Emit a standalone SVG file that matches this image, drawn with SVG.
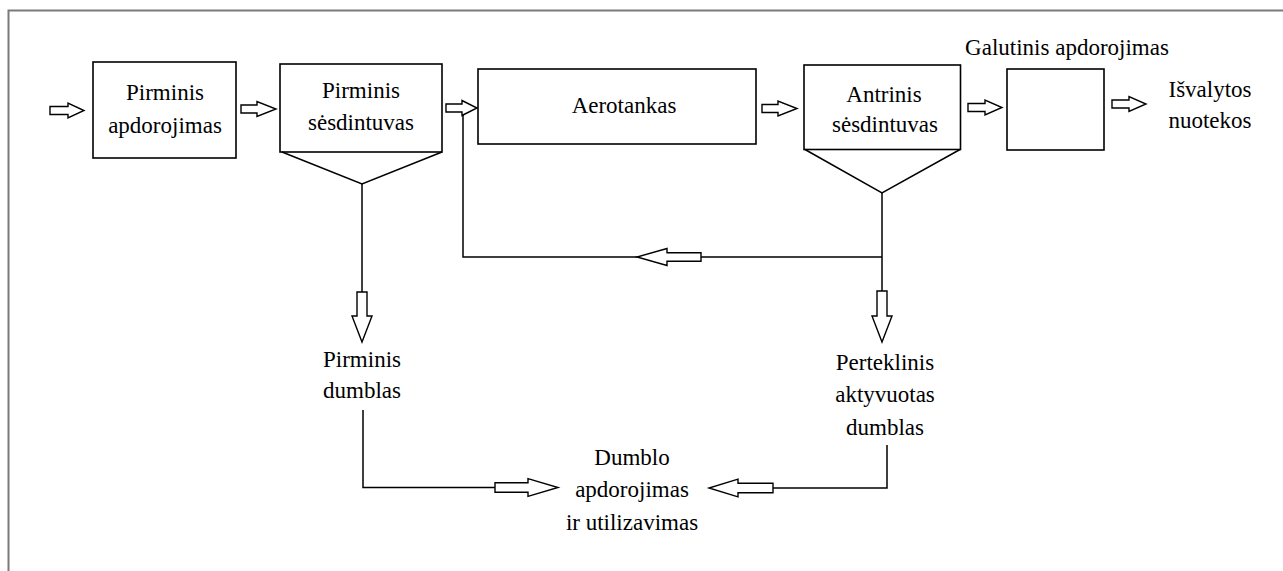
<svg xmlns="http://www.w3.org/2000/svg" width="1283" height="571" viewBox="0 0 1283 571" font-family="Liberation Serif, Tinos, Times New Roman, Times, Noto Serif, DejaVu Serif, serif">
<style>
  .box { fill: #fff; stroke: #000; stroke-width: 1.6; }
  .ln { fill: none; stroke: #000; stroke-width: 1.5; }
  .arr { fill: #fff; stroke: #000; stroke-width: 1.4; stroke-linejoin: miter; }
  .t { font-size: 23px; fill: #000; text-anchor: middle; }
</style>
<rect x="0" y="0" width="1283" height="571" fill="#fff"/>
<path d="M8.5,571 V10.5 H1283" fill="none" stroke="#7a7a7a" stroke-width="2"/>

<g id="connectors">
  <line class="ln" x1="362" y1="184" x2="362" y2="292"/>
  <line class="ln" x1="882" y1="193" x2="882" y2="291"/>
  <polyline class="ln" points="882,257 463,257 463,112"/>
  <polyline class="ln" points="363,410 363,487.5 495,487.5"/>
  <polyline class="ln" points="887,445 887,488 773,488"/>
  <polygon class="arr" points="50,106.5 68,106.5 68,103 84,110.5 68,118 68,114.5 50,114.5"/>
  <polygon class="arr" points="241,105 257,105 257,101.5 276,109 257,116.5 257,113 241,113"/>
  <polygon class="arr" points="446,104 462,104 462,100.5 477,108 462,115.5 462,112 446,112"/>
  <polygon class="arr" points="762,104.5 778,104.5 778,101 797,108.5 778,116 778,112.5 762,112.5"/>
  <polygon class="arr" points="968,103.5 985,103.5 985,100 1002,107.5 985,115 985,111.5 968,111.5"/>
  <polygon class="arr" points="1112,100 1129,100 1129,96.5 1146,104 1129,111.5 1129,108 1112,108"/>
  <polygon class="arr" points="701,252.8 667,252.8 667,248.5 637,257 667,265.5 667,261.2 701,261.2"/>
  <polygon class="arr" points="495,482.8 528,482.8 528,478.7 558,487.5 528,496.3 528,492.2 495,492.2"/>
  <polygon class="arr" points="773,483.3 738,483.3 738,479.2 709,488 738,496.8 738,492.7 773,492.7"/>
  <polygon class="arr" points="357,292 367,292 367,316 372,316 362,342 352,316 357,316"/>
  <polygon class="arr" points="877,291 887,291 887,316 892,316 882,342 872,316 877,316"/>
</g>

<g id="pirminis-apdorojimas">
  <rect class="box" x="93" y="62" width="143" height="96"/>
  <text class="t" x="165" y="100">Pirminis</text>
  <text class="t" x="165" y="133">apdorojimas</text>
</g>

<g id="pirminis-sesdintuvas">
  <rect class="box" x="280" y="64" width="162" height="88"/>
  <polyline class="ln" points="282,152 362,184 442,152"/>
  <text class="t" x="361" y="98">Pirminis</text>
  <text class="t" x="361" y="130">sėsdintuvas</text>
</g>

<g id="aerotankas">
  <rect class="box" x="478" y="69" width="278" height="75"/>
  <text class="t" x="624" y="113">Aerotankas</text>
</g>

<g id="antrinis-sesdintuvas">
  <rect class="box" x="804" y="65" width="156.5" height="84.5"/>
  <polyline class="ln" points="805,149.5 882,193 960,149.5"/>
  <text class="t" x="884" y="101.5">Antrinis</text>
  <text class="t" x="885" y="132">sėsdintuvas</text>
</g>

<g id="galutinis-apdorojimas">
  <rect class="box" x="1007" y="69" width="97" height="81"/>
  <text class="t" x="1067" y="55">Galutinis apdorojimas</text>
</g>

<g id="isvalytos-nuotekos">
  <text class="t" x="1210" y="97">Išvalytos</text>
  <text class="t" x="1210" y="128">nuotekos</text>
</g>

<g id="pirminis-dumblas">
  <text class="t" x="362" y="367">Pirminis</text>
  <text class="t" x="362" y="398">dumblas</text>
</g>

<g id="perteklinis-dumblas">
  <text class="t" x="885" y="370">Perteklinis</text>
  <text class="t" x="885" y="402">aktyvuotas</text>
  <text class="t" x="885" y="435">dumblas</text>
</g>

<g id="dumblo-apdorojimas">
  <text class="t" x="632" y="465">Dumblo</text>
  <text class="t" x="632" y="497">apdorojimas</text>
  <text class="t" x="632" y="530">ir utilizavimas</text>
</g>
</svg>
